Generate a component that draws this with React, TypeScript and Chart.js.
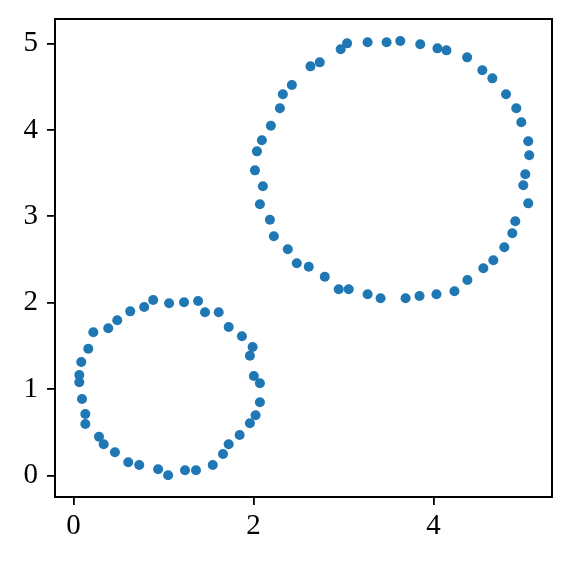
import React, { useEffect, useRef } from "react";
import { Chart, registerables } from "chart.js";

Chart.register(...registerables);

const smallX = [0.885, 1.062, 1.228, 1.384, 1.461, 1.613, 1.724, 1.871, 1.990, 1.960, 2.004, 2.071, 2.071, 2.023, 1.960, 1.846, 1.724, 1.661, 1.547, 1.361, 1.239, 1.051, 0.940, 0.730, 0.608, 0.460, 0.335, 0.283, 0.131, 0.131, 0.094, 0.064, 0.064, 0.086, 0.164, 0.220, 0.386, 0.486, 0.630, 0.785];
const smallY = [2.031, 1.993, 2.005, 2.020, 1.889, 1.889, 1.719, 1.611, 1.487, 1.387, 1.152, 1.067, 0.847, 0.697, 0.604, 0.469, 0.361, 0.249, 0.122, 0.060, 0.060, 0.002, 0.072, 0.122, 0.153, 0.269, 0.361, 0.449, 0.596, 0.712, 0.885, 1.079, 1.163, 1.314, 1.468, 1.657, 1.704, 1.796, 1.900, 1.950];

const bigX = [3.040, 2.969, 3.268, 3.479, 3.631, 3.853, 4.044, 4.144, 4.374, 4.543, 4.654, 4.806, 4.920, 4.976, 5.053, 5.064, 5.020, 4.998, 5.053, 4.909, 4.876, 4.787, 4.665, 4.554, 4.377, 4.233, 4.033, 3.845, 3.690, 3.412, 3.268, 3.058, 2.947, 2.792, 2.614, 2.481, 2.381, 2.226, 2.182, 2.071, 2.104, 2.016, 2.038, 2.093, 2.193, 2.293, 2.326, 2.426, 2.633, 2.736];
const bigY = [5.002, 4.933, 5.014, 5.014, 5.029, 4.991, 4.944, 4.921, 4.840, 4.690, 4.597, 4.412, 4.250, 4.088, 3.868, 3.706, 3.486, 3.359, 3.150, 2.942, 2.803, 2.641, 2.491, 2.398, 2.263, 2.132, 2.097, 2.078, 2.051, 2.051, 2.097, 2.155, 2.155, 2.301, 2.417, 2.456, 2.618, 2.769, 2.961, 3.139, 3.347, 3.532, 3.752, 3.880, 4.049, 4.250, 4.412, 4.520, 4.736, 4.782];

const xTicks = [0, 2, 4];
const yTicks = [0, 1, 2, 3, 4, 5];

const frame = {
  id: "frame",
  afterDatasetsDraw(chart: any) {
    const { ctx, chartArea } = chart;
    ctx.save();
    ctx.strokeStyle = "#000";
    ctx.lineWidth = 2;
    ctx.strokeRect(chartArea.left, chartArea.top, chartArea.right - chartArea.left, chartArea.bottom - chartArea.top);
    ctx.restore();
  },
};

export default function App() {
  const ref = useRef<HTMLCanvasElement | null>(null);
  useEffect(() => {
    if (!ref.current) return;
    const pts = smallX.map((x, i) => ({ x, y: smallY[i] })).concat(bigX.map((x, i) => ({ x, y: bigY[i] })));
    const font = { family: "Liberation Serif", size: 29 };
    const chart = new Chart(ref.current, {
      type: "scatter",
      data: {
        datasets: [
          {
            data: pts,
            backgroundColor: "#1f77b4",
            borderWidth: 0,
            pointRadius: 5,
          },
        ],
      },
      plugins: [frame],
      options: {
        animation: false,
        responsive: false,
        layout: { padding: { left: 0, top: 19, right: 20, bottom: 0 } },
        plugins: { legend: { display: false }, tooltip: { enabled: false } },
        scales: {
          x: {
            type: "linear",
            min: -0.206,
            max: 5.317,
            afterBuildTicks: (s: any) => {
              s.ticks = xTicks.map((v) => ({ value: v }));
            },
            afterFit: (s: any) => {
              s.height = 69;
              s.paddingLeft = 0;
              s.paddingRight = 0;
            },
            grid: { display: true, drawOnChartArea: false, drawTicks: true, tickLength: 8, color: "#000", lineWidth: 1.8 },
            border: { display: false },
            ticks: { color: "#000", font, padding: 4, maxRotation: 0 },
          },
          y: {
            type: "linear",
            min: -0.249,
            max: 5.284,
            afterBuildTicks: (s: any) => {
              s.ticks = yTicks.map((v) => ({ value: v }));
            },
            afterFit: (s: any) => {
              s.width = 55;
              s.paddingTop = 0;
              s.paddingBottom = 0;
            },
            grid: { display: true, drawOnChartArea: false, drawTicks: true, tickLength: 8, color: "#000", lineWidth: 1.8 },
            border: { display: false },
            ticks: { color: "#000", font, padding: 9 },
          },
        },
      },
    });
    return () => chart.destroy();
  }, []);
  return (
    <div style={{ position: "fixed", left: 0, top: 0, width: 572, height: 566, background: "#fff" }}>
      <canvas ref={ref} width={572} height={566} style={{ width: 572, height: 566, display: "block" }} />
    </div>
  );
}
